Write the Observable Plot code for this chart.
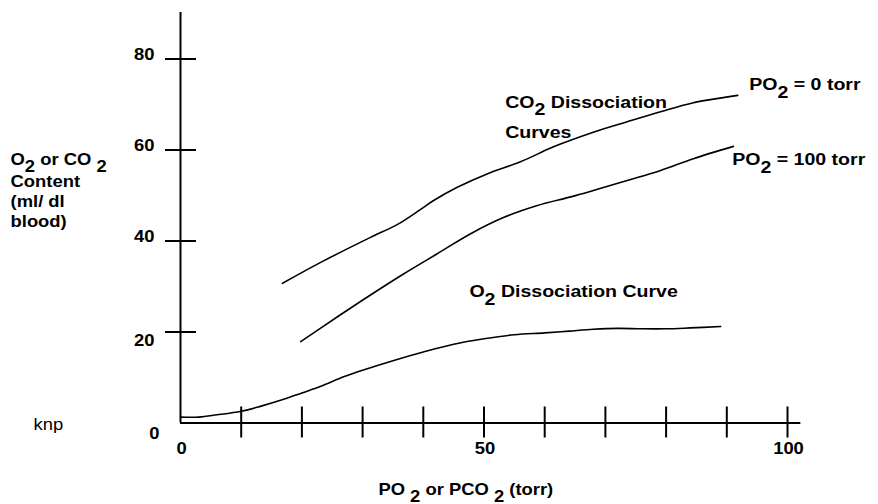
<!DOCTYPE html>
<html><head><meta charset="utf-8">
<script src="https://cdn.jsdelivr.net/npm/d3@7"></script>
<script src="https://cdn.jsdelivr.net/npm/@observablehq/plot@0.6"></script>
<style>
html,body{margin:0;padding:0;background:#fff;}
#chart svg{display:block;}
</style></head><body><div id="chart"></div>
<script>
// Partial pressure (torr) vs content (ml/dl blood)
const o2X = [0,3,6,10,13,17,20,23,27,30,35,40,45,50,55,60,64,68,72,76,80,84,89];
const o2Y = [1.3,1.3,1.8,2.6,3.6,5.2,6.6,8.0,10.2,11.6,13.7,15.6,17.3,18.5,19.4,19.8,20.2,20.6,20.8,20.7,20.7,20.9,21.2];
const co2Po0X = [16.8,23.1,31.3,35.7,39.5,41.7,45.6,50.6,56.0,60.6,62.6,68.0,73.6,79.1,84.5,91.8];
const co2Po0Y = [30.7,35.3,40.8,43.6,46.9,48.9,51.8,54.8,57.4,60.2,61.3,63.9,66.2,68.4,70.4,72.0];
const co2Po100X = [19.8,25.8,30.8,36.8,42.3,47.8,53.3,58.8,64.3,68.0,73.6,79.1,84.5,91.1];
const co2Po100Y = [17.9,23.3,27.7,32.8,37.2,41.6,45.2,47.8,49.7,51.1,53.3,55.5,58.1,60.8];
const xTicks = [10,20,30,40,50,60,70,80,90,100];
const yTicks = [20,40,60,80];
const xTickLabels = [0,50,100];
const yTickLabels = [0,20,40,60,80];
const yTitleLines = ["O_2 or CO _2","Content","(ml/ dl","blood)"];

const toPts = (xs, ys) => xs.map((x, i) => ({x, y: ys[i]}));
const bold = {fontWeight: "bold", fontSize: 16, fill: "#000"};
const bold17 = {fontWeight: "bold", fontSize: 17, fill: "#000"};
const pxX = 6.07, pxY = 4.55;
const lbl = (s, x, y, ariaLabel) => Plot.text([s], {x, y, text: d => d, textAnchor: "start", lineAnchor: "bottom", ariaLabel, ...bold17});

const chart = Plot.plot({
  width: 878, height: 504, margin: 0,
  x: {domain: [0, 100], range: [180, 787], axis: null},
  y: {domain: [0, 80], range: [422.5, 58.5], axis: null},
  style: {fontFamily: "'Liberation Sans', Arial, Helvetica, sans-serif", background: "#fff", overflow: "visible"},
  marks: [
    Plot.ruleY([0], {x1: 0, x2: 102.2, stroke: "#000", strokeWidth: 2}),
    Plot.ruleX([0], {y1: 0, y2: 90.2, stroke: "#000", strokeWidth: 2}),
    Plot.ruleX(xTicks, {x: d => d, y1: -15 / pxY, y2: 16 / pxY, stroke: "#000", strokeWidth: 2}),
    Plot.ruleY(yTicks, {y: d => d, x1: -15 / pxX, x2: 16 / pxX, stroke: "#000", strokeWidth: 2}),
    Plot.line(toPts(o2X, o2Y), {x: "x", y: "y", curve: "catmull-rom", stroke: "#000", strokeWidth: 1.6}),
    Plot.line(toPts(co2Po0X, co2Po0Y), {x: "x", y: "y", curve: "catmull-rom", stroke: "#000", strokeWidth: 1.6}),
    Plot.line(toPts(co2Po100X, co2Po100Y), {x: "x", y: "y", curve: "catmull-rom", stroke: "#000", strokeWidth: 1.6}),
    Plot.text(xTickLabels, {x: d => d, y: 0, text: d => String(d), textAnchor: "middle", lineAnchor: "bottom", dy: 31, dx: 1, ...bold}),
    Plot.text(yTickLabels.filter(d => d >= 40), {x: 0, y: d => d, text: d => String(d), textAnchor: "end", lineAnchor: "bottom", dx: -26, dy: 1, ...bold}),
    Plot.text(yTickLabels.filter(d => d === 20), {x: 0, y: d => d, text: d => String(d), textAnchor: "end", lineAnchor: "bottom", dx: -26, dy: 14, ...bold}),
    Plot.text(yTickLabels.filter(d => d === 0), {x: 0, y: d => d, text: d => String(d), textAnchor: "end", lineAnchor: "bottom", dx: -21, dy: 16, ...bold}),
    Plot.text(yTitleLines, {x: -28, y: (d, i) => (i === 0 ? 56.6 : 56.2) - i * 4.4, text: d => d, textAnchor: "start", lineAnchor: "bottom", ariaLabel: "ytitle", ...bold}),
    Plot.text(["PO _2 or PCO _2 (torr)"], {x: 32.6, y: -15.8, text: d => d, textAnchor: "start", lineAnchor: "bottom", ...bold}),
    Plot.text(["knp"], {x: -24.2, y: -1.6, text: d => d, textAnchor: "start", lineAnchor: "bottom", fontSize: 16, fill: "#000"}),
    lbl("CO_2 Dissociation", 53.5, 69.3, "annot"),
    lbl("Curves", 53.5, 62.7, "annot"),
    lbl("PO_2 = 0 torr", 93.7, 73.1, "annot"),
    lbl("PO_2 = 100 torr", 90.9, 56.6, "annot"),
    lbl("O_2 Dissociation Curve", 47.6, 27.6, "annot")
  ]
});

const svgns = "http://www.w3.org/2000/svg";
d3.select(chart).selectAll("text").each(function () {
  const t = this.textContent;
  const g = this.closest("g[aria-label]");
  const role = g ? g.getAttribute("aria-label") : "";
  const shift = role === "ytitle" ? 0.36 : 0.42;
  if (t.includes("_")) {
    const parts = t.split(/_(\d)/);
    this.textContent = "";
    parts.forEach((p, i) => {
      if (!p) return;
      const ts = document.createElementNS(svgns, "tspan");
      ts.textContent = p;
      if (i % 2 === 1) ts.setAttribute("dy", shift + "em");
      else if (i > 0) ts.setAttribute("dy", -shift + "em");
      this.appendChild(ts);
    });
  }
  const s = role === "annot" ? 1.26 : role === "ytitle" ? 1.22 : 1.15;
  const tr = this.getAttribute("transform") || "";
  this.setAttribute("transform", tr + ` scale(${s},1)`);
});
document.getElementById("chart").appendChild(chart);
</script></body></html>
